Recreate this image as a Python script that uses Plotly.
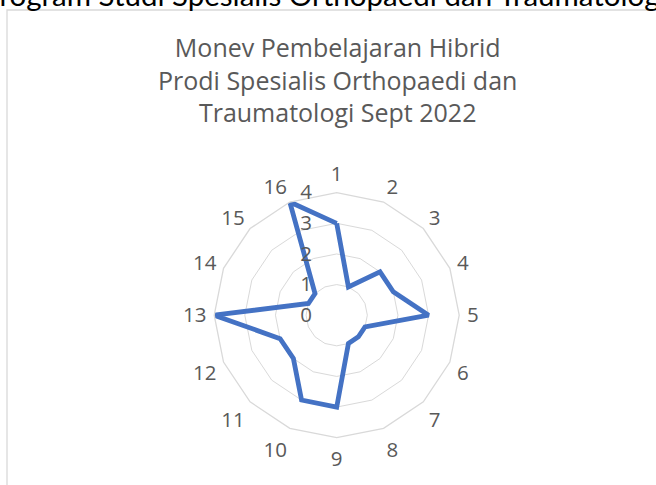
import plotly.graph_objects as go

categories = [str(i) for i in range(1, 17)]
values = [3, 1, 2, 2, 3, 1, 1, 1, 3, 3, 2, 2, 4, 1, 1, 4]
radial_ticks = [0, 1, 2, 3, 4]

title_text = "Monev Pembelajaran Hibrid<br>Prodi Spesialis Orthopaedi dan<br>Traumatologi Sept 2022"
header_text = "Program Studi Spesialis Orthopaedi dan Traumatologi"

W, H = 656, 485
cx, cy, R = 336.7, 315.2, 122.5

fig = go.Figure()
fig.add_trace(go.Scatterpolar(
    r=values + values[:1],
    theta=categories + categories[:1],
    mode="lines",
    line=dict(color="#4472C4", width=4.8),
    showlegend=False,
    hoverinfo="skip",
))

fig.update_layout(
    width=W, height=H,
    margin=dict(l=0, r=0, t=0, b=0),
    paper_bgcolor="white",
    font=dict(family="Open Sans", color="#595959"),
    polar=dict(
        domain=dict(x=[(cx - R) / W, (cx + R) / W], y=[(H - cy - R) / H, (H - cy + R) / H]),
        bgcolor="white",
        gridshape="linear",
        angularaxis=dict(
            direction="clockwise", rotation=90,
            showgrid=False, showline=True, linecolor="#d9d9d9", linewidth=1.3,
            ticks="outside", ticklen=3, tickcolor="rgba(0,0,0,0)",
            tickfont=dict(family="Open Sans", size=20.5, color="#595959"),
        ),
        radialaxis=dict(
            range=[0, 4], tickvals=radial_ticks, ticktext=[str(v) for v in radial_ticks],
            angle=90, side="counterclockwise", tickangle=90,
            showline=False, showgrid=True, gridcolor="#d9d9d9", gridwidth=1.3,
            ticks="outside", ticklen=17, tickcolor="rgba(0,0,0,0)",
            tickfont=dict(family="Open Sans", size=20.5, color="#595959"),
        ),
    ),
    shapes=[dict(type="rect", xref="paper", yref="paper",
                 x0=7 / W, x1=1.2, y0=-0.2, y1=1 - 10 / H,
                 line=dict(color="#d9d9d9", width=1.3), fillcolor="rgba(0,0,0,0)", layer="below")],
    annotations=[
        dict(text=header_text, xref="paper", yref="paper",
             x=0.495, xanchor="center", y=1 - 14 / H, yanchor="bottom",
             showarrow=False, font=dict(family="Lato", size=29.5, color="black")),
        dict(text=title_text, xref="paper", yref="paper",
             x=337 / W, xanchor="center", y=1 - 28 / H, yanchor="top",
             showarrow=False, align="center",
             font=dict(family="Open Sans", size=25, color="#595959")),
    ],
)

fig.write_html("out.html", config={"displayModeBar": False},
               post_script="document.body.style.margin='0';")
